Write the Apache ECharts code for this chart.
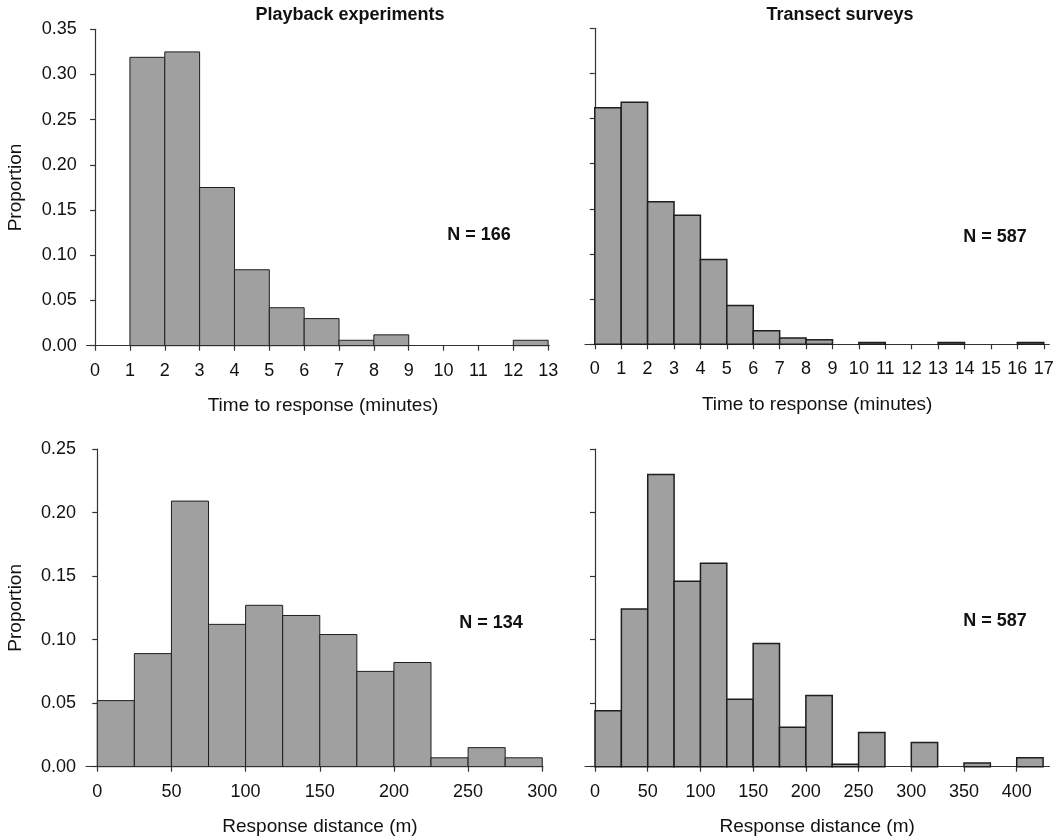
<!DOCTYPE html>
<html>
<head>
<meta charset="utf-8">
<script src="https://cdn.jsdelivr.net/npm/echarts@6/dist/echarts.min.js"></script>
<style>
html,body{margin:0;padding:0;background:#fff;}
#chart{width:1064px;height:840px;}
</style>
</head>
<body>
<div id="chart"></div>
<script>
// ---- Data ----
const playbackTimeEdges = [0,1,2,3,4,5,6,7,8,9,10,11,12,13];
const playbackTimeProp  = [0,0.319,0.325,0.175,0.084,0.042,0.030,0.006,0.012,0,0,0,0.006];

const transectTimeEdges = [0,1,2,3,4,5,6,7,8,9,10,11,12,13,14,15,16,17];
const transectTimeProp  = [0.262,0.268,0.158,0.143,0.094,0.043,0.015,0.007,0.005,0,0.002,0,0,0.002,0,0,0.002];

const playbackDistEdges = [0,25,50,75,100,125,150,175,200,225,250,275,300];
const playbackDistProp  = [0.052,0.089,0.209,0.112,0.127,0.119,0.104,0.075,0.082,0.007,0.015,0.007];

const transectDistEdges = [0,25,50,75,100,125,150,175,200,225,250,275,300,325,350,375,400,425];
const transectDistProp  = [0.044,0.124,0.230,0.146,0.160,0.053,0.097,0.031,0.056,0.002,0.027,0,0.019,0,0.003,0,0.007];

const timeTicksLeft  = [0,1,2,3,4,5,6,7,8,9,10,11,12,13];
const timeTicksRight = [0,1,2,3,4,5,6,7,8,9,10,11,12,13,14,15,16,17];
const distTicksLeft  = [0,50,100,150,200,250,300];
const distTicksRight = [0,50,100,150,200,250,300,350,400];

const panelTitles = ['Playback experiments','Transect surveys'];
const sampleSizes = ['N = 166','N = 587','N = 134','N = 587'];
const xNames = ['Time to response (minutes)','Time to response (minutes)','Response distance (m)','Response distance (m)'];
const yName = 'Proportion';

// ---- Build ----
function binData(edges, props){
  return props.map((p,i)=>[edges[i], edges[i+1], p]);
}
const FONT = "'Liberation Sans', Arial, Helvetica, sans-serif";
const AXIS_COLOR = '#333';
const TEXT_COLOR = '#111';

function makeRender(lw){
  return function(params, api){
    const v = api.value(2);
    if (!v) return;
    const p0 = api.coord([api.value(0), v]);
    const p1 = api.coord([api.value(1), 0]);
    return {
      type:'rect',
      shape:{x:p0[0], y:p0[1], width:p1[0]-p0[0], height:p1[1]-p0[1]},
      style:{fill:'#a0a0a0', stroke:'#1e1e1e', lineWidth:lw}
    };
  };
}

const grids = [
  {left:86.7, top:29.3, width:462.5, height:316.4},
  {left:585,  top:28.3, width:464.3, height:316.0},
  {left:86,   top:449,  width:457,   height:317.7},
  {left:585,  top:449,  width:464.3, height:317.7}
];
const xRanges = [[-0.24,13.03],[-0.37,17.21],[-7.6,300.5],[-9.5,430.9]];
const xTicks = [timeTicksLeft,timeTicksRight,distTicksLeft,distTicksRight];
const yMax = [0.35,0.35,0.25,0.25];
const namePad = [[0,0,0,10],[0,0,0,0],[0,0,0,11],[0,0,0,0]];

const xAxis = grids.map((g,i)=>({
  type:'value', gridIndex:i, min:xRanges[i][0], max:xRanges[i][1],
  name:xNames[i], nameLocation:'middle', nameGap:51,
  nameTextStyle:{fontFamily:FONT, fontSize:19, color:TEXT_COLOR, padding:namePad[i]},
  splitLine:{show:false},
  axisLine:{show:true, onZero:false, lineStyle:{color:AXIS_COLOR, width:1.2}},
  axisTick:{show:true, length:5, inside:false, customValues:xTicks[i], lineStyle:{color:AXIS_COLOR, width:1.2}},
  axisLabel:{show:true, margin:16, customValues:xTicks[i], fontFamily:FONT, fontSize:18, color:TEXT_COLOR,
             formatter:(v)=>String(v)}
}));

const yAxis = grids.map((g,i)=>({
  type:'value', gridIndex:i, min:0, max:yMax[i], interval:0.05, offset:-5,
  name:(i%2===0)?yName:'', nameLocation:'middle', nameGap:66, nameRotate:90,
  nameTextStyle:{fontFamily:FONT, fontSize:19, color:TEXT_COLOR},
  splitLine:{show:false},
  axisLine:{show:true, lineStyle:{color:AXIS_COLOR, width:1.2}},
  axisTick:{show:true, length:5, lineStyle:{color:AXIS_COLOR, width:1.2}},
  axisLabel:{show:(i%2===0), margin:15, fontFamily:FONT, fontSize:18, color:TEXT_COLOR,
             formatter:(v)=>v.toFixed(2)}
}));

const allData = [
  binData(playbackTimeEdges, playbackTimeProp),
  binData(transectTimeEdges, transectTimeProp),
  binData(playbackDistEdges, playbackDistProp),
  binData(transectDistEdges, transectDistProp)
];
const series = allData.map((d,i)=>({
  type:'custom', xAxisIndex:i, yAxisIndex:i,
  renderItem: makeRender(i%2===0 ? 1 : 1.5),
  encode:{x:[0,1], y:2},
  data:d, silent:true, animation:false
}));

const nPos = [[479,235],[995,237],[491,623],[995,621]];
const titlePos = [[350,15],[840,15]];
const graphic = [];
panelTitles.forEach((t,i)=>graphic.push({type:'text', silent:true,
  style:{x:titlePos[i][0], y:titlePos[i][1], text:t, textAlign:'center', textVerticalAlign:'middle',
         fontFamily:FONT, fontSize:18, fontWeight:'bold', fill:TEXT_COLOR}}));
sampleSizes.forEach((t,i)=>graphic.push({type:'text', silent:true,
  style:{x:nPos[i][0], y:nPos[i][1], text:t, textAlign:'center', textVerticalAlign:'middle',
         fontFamily:FONT, fontSize:18, fontWeight:'bold', fill:TEXT_COLOR}}));

const chart = echarts.init(document.getElementById('chart'), null, {renderer:'canvas'});
chart.setOption({
  backgroundColor:'#ffffff',
  animation:false,
  grid:grids,
  xAxis:xAxis,
  yAxis:yAxis,
  series:series,
  graphic:graphic
});
</script>
</body>
</html>
